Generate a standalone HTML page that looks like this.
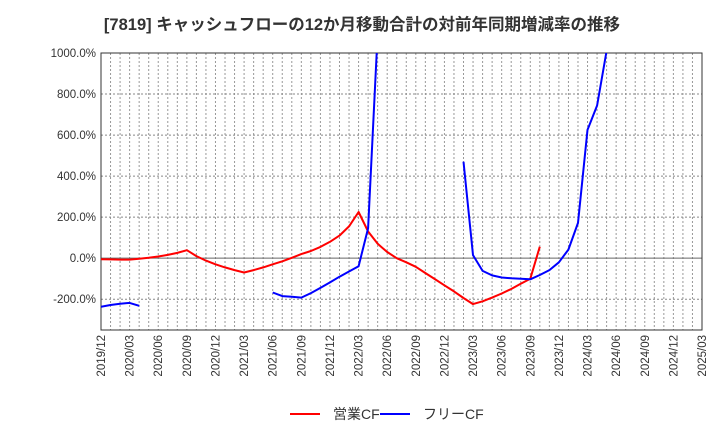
<!DOCTYPE html>
<html><head><meta charset="utf-8"><style>
body{margin:0;background:#fff;}
svg{font-family:"Liberation Sans","Noto Sans CJK JP",sans-serif;}
</style></head><body>
<svg id="chart" width="720" height="440">
<text x="362" y="30" text-anchor="middle" font-size="16.5" font-weight="bold" fill="#333">[7819]  キャッシュフローの12か月移動合計の対前年同期増減率の推移</text>
<defs><clipPath id="clip"><rect x="101" y="53" width="601" height="277"/></clipPath></defs>
<g id="grid"></g>
<g id="axes"></g>
<g id="series" clip-path="url(#clip)"></g>
<g>
<line x1="290" y1="414" x2="320" y2="414" stroke="#ff0000" stroke-width="2"/>
<text x="333" y="419" font-size="14" fill="#333">営業CF</text>
<line x1="380" y1="414" x2="410" y2="414" stroke="#0000ff" stroke-width="2"/>
<text x="423" y="419" font-size="14" fill="#333">フリーCF</text>
</g>
</svg>
<script>
const startYear = 2019, startMonth = 12, monthCount = 63;
const yTicks = [-200, 0, 200, 400, 600, 800, 1000];
const yMin = -350, yMax = 1000;
// monthly values, index 0 = 2019/12 (null = no data)
const operatingCF = [-5,-6,-7,-7,-3,2,8,16,26,39,10,-12,-30,-45,-58,-70,-58,-45,-30,-15,2,20,35,55,80,110,155,225,130,70,30,0,-20,-42,-72,-102,-132,-162,-194,-224,-210,-192,-172,-150,-125,-100,56];
const freeCF = [-237,-228,-222,-218,-232,null,null,null,null,null,null,null,null,null,null,null,null,null,-167,-185,-188,-192,-170,-145,-118,-90,-65,-39,146,1100,null,null,null,null,null,null,null,null,470,15,-62,-84,-94,-98,-100,-103,-82,-58,-20,42,172,625,744,1010];
const L=101,R=702,T=53,B=330;
const X=i=>L+(R-L)*i/monthCount;
const Y=v=>B-(v-yMin)/(yMax-yMin)*(B-T);
const NS="http://www.w3.org/2000/svg";
function mk(tag,attrs,parent){const e=document.createElementNS(NS,tag);for(const k in attrs)e.setAttribute(k,attrs[k]);parent.appendChild(e);return e;}
const grid=document.getElementById('grid'),axes=document.getElementById('axes'),series=document.getElementById('series');
for(let i=1;i<monthCount;i++){
 const l=mk('line',{x1:X(i),x2:X(i),y1:T,y2:B,stroke:'#999','stroke-width':1,'stroke-dasharray':'2,2'},grid);
 
 
}
yTicks.forEach(v=>{
 const l=mk('line',{x1:L,x2:R,y1:Y(v),y2:Y(v),stroke:v===0?'#666':'#888','stroke-width':1,'stroke-dasharray':v===0?'':'2,2'},grid);
 
 
 const t=mk('text',{x:L-5,y:Y(v)+4,'text-anchor':'end','font-size':11.5,fill:'#333'},axes);
 t.textContent=v.toFixed(1)+'%';
 
 
});
const frame=mk('rect',{x:L,y:T,width:R-L,height:B-T,fill:'none',stroke:'#333','stroke-width':1},axes);


for(let i=0;i<=monthCount;i+=3){
 const m=(startMonth-1+i)%12+1, y=startYear+Math.floor((startMonth-1+i)/12);
 const t=mk('text',{transform:`translate(${X(i)+4},335) rotate(-90)`,'text-anchor':'end','font-size':11.5,fill:'#333'},axes);
 t.textContent=y+'/'+String(m).padStart(2,'0');
 
 
}
function draw(arr,color,name){
 let seg=[];const segs=[];
 arr.forEach((v,i)=>{if(v===null){if(seg.length)segs.push(seg);seg=[];}else seg.push(X(i).toFixed(1)+','+Y(v).toFixed(1));});
 if(seg.length)segs.push(seg);
 segs.forEach(s=>{
  const p=mk('polyline',{points:s.join(' '),fill:'none',stroke:color,'stroke-width':2,'stroke-linejoin':'round'},series);
  
  
 });
}
draw(operatingCF,'#ff0000','operating-cf-line');
draw(freeCF,'#0000ff','free-cf-line');
</script>
</body></html>
